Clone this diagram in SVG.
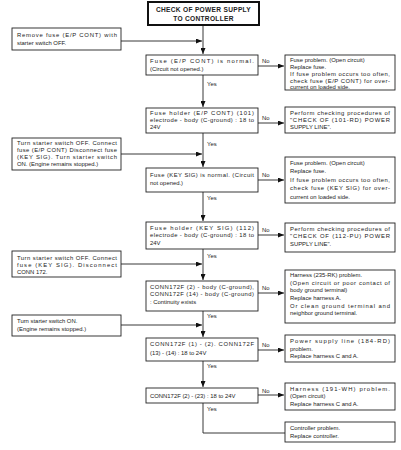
<svg xmlns="http://www.w3.org/2000/svg" width="401" height="450" viewBox="0 0 401 450">
<style>
.bx{fill:#fff;stroke:#222;stroke-width:0.9}
.tb{fill:#fff;stroke:#111;stroke-width:2}
text{font-family:"Liberation Sans",Arial,sans-serif;font-size:5.9px;fill:#222}
.tt{font-size:6.6px;font-weight:bold;text-anchor:middle;letter-spacing:0.3px}
.ln{fill:none;stroke:#222;stroke-width:0.9}
</style>
<defs>
<marker id="ah" markerWidth="6" markerHeight="5" refX="6" refY="2.5" orient="auto" markerUnits="userSpaceOnUse"><path d="M0,0 L6,2.5 L0,5 z" fill="#111"/></marker>
</defs>
<rect width="401" height="450" fill="#fff"/>
<g id="connectors">
<path class="ln" d="M203,26 V54" marker-end="url(#ah)"/>
<path class="ln" d="M121,41 H202" marker-end="url(#ah)"/>
<path class="ln" d="M203,75 V107" marker-end="url(#ah)"/>
<path class="ln" d="M203,133 V167" marker-end="url(#ah)"/>
<path class="ln" d="M121,154 H202" marker-end="url(#ah)"/>
<path class="ln" d="M203,192 V221" marker-end="url(#ah)"/>
<path class="ln" d="M203,249 V280" marker-end="url(#ah)"/>
<path class="ln" d="M121,264 H202" marker-end="url(#ah)"/>
<path class="ln" d="M203,311 V337" marker-end="url(#ah)"/>
<path class="ln" d="M121,325 H202" marker-end="url(#ah)"/>
<path class="ln" d="M203,361 V387" marker-end="url(#ah)"/>
<path class="ln" d="M203,403 V433 H285"/>
<path class="ln" d="M258,66 H284" marker-end="url(#ah)"/>
<path class="ln" d="M258,123 H284" marker-end="url(#ah)"/>
<path class="ln" d="M258,180 H284" marker-end="url(#ah)"/>
<path class="ln" d="M258,235 H284" marker-end="url(#ah)"/>
<path class="ln" d="M258,293 H284" marker-end="url(#ah)"/>
<path class="ln" d="M258,350 H284" marker-end="url(#ah)"/>
<path class="ln" d="M258,395 H284" marker-end="url(#ah)"/>
<text x="262" y="63">No</text>
<text x="262" y="120">No</text>
<text x="262" y="177">No</text>
<text x="262" y="232">No</text>
<text x="262" y="290">No</text>
<text x="262" y="347">No</text>
<text x="262" y="393">No</text>
<text x="207" y="86">Yes</text>
<text x="207" y="146">Yes</text>
<text x="207" y="200">Yes</text>
<text x="207" y="258">Yes</text>
<text x="207" y="318">Yes</text>
<text x="207" y="368">Yes</text>
<text x="207" y="411">Yes</text>
</g>
<g id="title">
<rect class="tb" x="148" y="2" width="111" height="23"/>
<text class="tt" x="203.5" y="11.5">CHECK OF POWER SUPPLY</text>
<text class="tt" x="203.5" y="20.5">TO CONTROLLER</text>
</g>
<g id="left1">
<rect class="bx" x="12" y="28" width="109" height="22"/>
<text x="17" y="37" textLength="100" lengthAdjust="spacing">Remove fuse (E/P CONT) with</text>
<text x="17" y="45">starter switch OFF.</text>
</g>
<g id="box1">
<rect class="bx" x="146" y="55" width="112" height="20"/>
<text x="150" y="63" textLength="104" lengthAdjust="spacing">Fuse (E/P CONT) is normal.</text>
<text x="150" y="71">(Circuit not opened.)</text>
</g>
<g id="right1">
<rect class="bx" x="285" y="55" width="110" height="35"/>
<text x="290" y="61.5">Fuse problem. (Open circuit)</text>
<text x="290" y="68.5">Replace fuse.</text>
<text x="290" y="75.5" textLength="100" lengthAdjust="spacing">If fuse problem occurs too often,</text>
<text x="290" y="82.5" textLength="100" lengthAdjust="spacing">check fuse (E/P CONT) for over-</text>
<text x="290" y="89">current on loaded side.</text>
</g>
<g id="box2">
<rect class="bx" x="146" y="108" width="112" height="25"/>
<text x="150" y="115" textLength="104" lengthAdjust="spacing">Fuse holder (E/P CONT) (101)</text>
<text x="150" y="122" textLength="104" lengthAdjust="spacing">electrode - body (C-ground) : 18 to</text>
<text x="150" y="129">24V</text>
</g>
<g id="right2">
<rect class="bx" x="285" y="107" width="110" height="26"/>
<text x="290" y="115" textLength="100" lengthAdjust="spacing">Perform checking procedures of</text>
<text x="290" y="122" textLength="100" lengthAdjust="spacing">"CHECK OF (101-RD) POWER</text>
<text x="290" y="129">SUPPLY LINE".</text>
</g>
<g id="left2">
<rect class="bx" x="12" y="138" width="109" height="32"/>
<text x="17" y="144.5" textLength="100" lengthAdjust="spacing">Turn starter switch OFF. Connect</text>
<text x="17" y="151.5" textLength="100" lengthAdjust="spacing">fuse (E/P CONT) Disconnect fuse</text>
<text x="17" y="158.5" textLength="100" lengthAdjust="spacing">(KEY SIG). Turn starter switch</text>
<text x="17" y="165.5">ON. (Engine remains stopped.)</text>
</g>
<g id="box3">
<rect class="bx" x="146" y="168" width="112" height="24"/>
<text x="150" y="177" textLength="104" lengthAdjust="spacing">Fuse (KEY SIG) is normal. (Circuit</text>
<text x="150" y="184.5">not opened.)</text>
</g>
<g id="right3">
<rect class="bx" x="285" y="157" width="110" height="46"/>
<text x="290" y="165">Fuse problem. (Open circuit)</text>
<text x="290" y="173">Replace fuse.</text>
<text x="290" y="182" textLength="100" lengthAdjust="spacing">If fuse problem occurs too often,</text>
<text x="290" y="190" textLength="100" lengthAdjust="spacing">check fuse (KEY SIG) for over-</text>
<text x="290" y="198.5">current on loaded side.</text>
</g>
<g id="box4">
<rect class="bx" x="146" y="222" width="112" height="27"/>
<text x="150" y="229.5" textLength="104" lengthAdjust="spacing">Fuse holder (KEY SIG) (112)</text>
<text x="150" y="237" textLength="104" lengthAdjust="spacing">electrode - body (C-ground) : 18 to</text>
<text x="150" y="245">24V</text>
</g>
<g id="right4">
<rect class="bx" x="285" y="223" width="110" height="29"/>
<text x="290" y="230.5" textLength="100" lengthAdjust="spacing">Perform checking procedures of</text>
<text x="290" y="238" textLength="100" lengthAdjust="spacing">"CHECK OF (112-PU) POWER</text>
<text x="290" y="245.5">SUPPLY LINE".</text>
</g>
<g id="left3">
<rect class="bx" x="12" y="251" width="109" height="26"/>
<text x="17" y="259.5" textLength="100" lengthAdjust="spacing">Turn starter switch OFF. Connect</text>
<text x="17" y="266.5" textLength="100" lengthAdjust="spacing">fuse (KEY SIG). Disconnect</text>
<text x="17" y="273.5">CONN 172.</text>
</g>
<g id="box5">
<rect class="bx" x="146" y="281" width="112" height="30"/>
<text x="150" y="288.5" textLength="104" lengthAdjust="spacing">CONN172F (2) - body (C-ground),</text>
<text x="150" y="296" textLength="104" lengthAdjust="spacing">CONN172F (14) - body (C-ground)</text>
<text x="150" y="304">: Continuity exists</text>
</g>
<g id="right5">
<rect class="bx" x="285" y="270" width="110" height="53"/>
<text x="290" y="276.5">Harness (235-RK) problem.</text>
<text x="290" y="284.5" textLength="100" lengthAdjust="spacing">(Open circuit or poor contact of</text>
<text x="290" y="292">body ground terminal)</text>
<text x="290" y="299.5">Replace harness A.</text>
<text x="290" y="307.5" textLength="100" lengthAdjust="spacing">Or clean ground terminal and</text>
<text x="290" y="315">neighbor ground terminal.</text>
</g>
<g id="left4">
<rect class="bx" x="12" y="315" width="109" height="21"/>
<text x="17" y="322.5">Turn starter switch ON.</text>
<text x="17" y="330.5">(Engine remains stopped.)</text>
</g>
<g id="box6">
<rect class="bx" x="146" y="338" width="112" height="23"/>
<text x="150" y="346" textLength="104" lengthAdjust="spacing">CONN172F (1) - (2). CONN172F</text>
<text x="150" y="354.5">(13) - (14) : 18 to 24V</text>
</g>
<g id="right6">
<rect class="bx" x="285" y="335" width="110" height="27"/>
<text x="290" y="343" textLength="100" lengthAdjust="spacing">Power supply line (184-RD)</text>
<text x="290" y="350.5">problem.</text>
<text x="290" y="358">Replace harness C and A.</text>
</g>
<g id="box7">
<rect class="bx" x="146" y="388" width="112" height="15"/>
<text x="150" y="397.5">CONN172F (2) - (23) : 18 to 24V</text>
</g>
<g id="right7">
<rect class="bx" x="285" y="383" width="110" height="27"/>
<text x="290" y="390.5" textLength="100" lengthAdjust="spacing">Harness (191-WH) problem.</text>
<text x="290" y="398">(Open circuit)</text>
<text x="290" y="405.5">Replace harness C and A.</text>
</g>
<g id="right8">
<rect class="bx" x="285" y="422" width="110" height="20"/>
<text x="290" y="430">Controller problem.</text>
<text x="290" y="438">Replace controller.</text>
</g>
</svg>
